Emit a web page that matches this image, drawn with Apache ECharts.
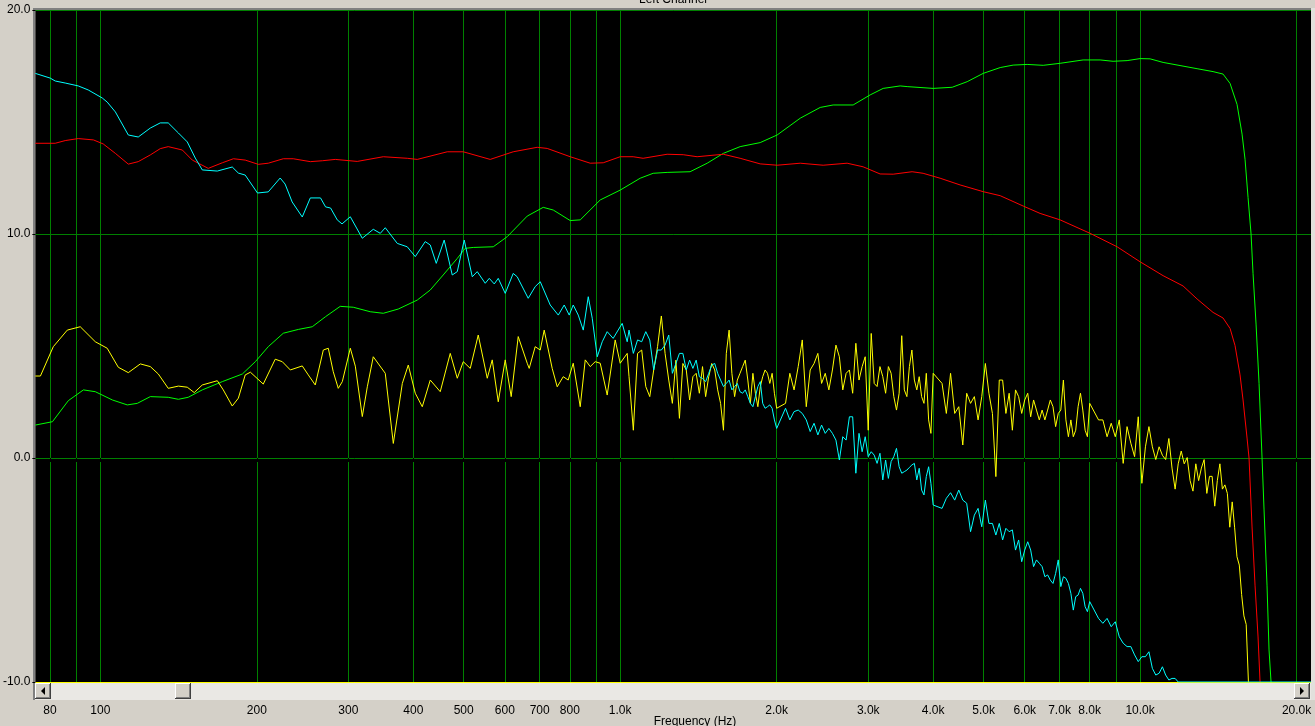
<!DOCTYPE html>
<html><head><meta charset="utf-8">
<script src="https://cdn.jsdelivr.net/npm/echarts@6/dist/echarts.min.js"></script>
<style>html,body{margin:0;padding:0;background:#d4d0c8;overflow:hidden}#c{width:1315px;height:726px}</style>
</head><body><div id="c"></div><script>
// ---------- axis ticks (Hz) ----------
const xMinHz = 75, xMaxHz = 21320;
const tickHz = [80,90,100,200,300,400,500,600,700,800,900,1000,2000,3000,4000,5000,6000,7000,8000,9000,10000,20000];
const labelHz = [80,100,200,300,400,500,600,700,800,1000,2000,3000,4000,5000,6000,7000,8000,10000,20000];
const yTicks = [-10,0,10,20];

// ---------- smooth curves [Hz, dB] ----------
const red = [[75,14.05],[81.9,14.05],[85.6,14.17],[90.7,14.26],[97,14.2],[101.3,14.02],[106.9,13.6],[113.2,13.12],[118.3,13.23],[124.8,13.53],[130.4,13.81],[135.1,13.9],[143.8,13.75],[150.3,13.3],[161.3,12.93],[171.7,13.18],[180.3,13.36],[190,13.3],[201.3,13.11],[210.4,13.16],[224.9,13.36],[235,13.36],[253.5,13.23],[267.3,13.27],[283.1,13.33],[312,13.24],[350.2,13.45],[389.4,13.38],[407,13.33],[464.9,13.67],[499.1,13.67],[562.3,13.33],[622.6,13.67],[692.4,13.87],[723.8,13.82],[801.4,13.45],[875.8,13.16],[927.7,13.18],[1000,13.45],[1059,13.45],[1107,13.38],[1231,13.56],[1322,13.54],[1406,13.45],[1579,13.56],[1701,13.38],[1859,13.13],[2004,13.07],[2220,13.16],[2457,13.07],[2732,13.16],[2933,13.0],[3162,12.68],[3350,12.67],[3643,12.78],[3825,12.71],[4125,12.49],[4507,12.19],[4991,11.89],[5382,11.71],[5957,11.25],[6422,10.92],[7018,10.63],[8013,10.03],[9033,9.43],[10000,8.76],[11073,8.14],[12097,7.68],[12872,7.1],[13815,6.5],[14441,6.25],[14899,5.78],[15229,5.02],[15570,3.71],[15779,2.59],[16062,0.89],[16203,0],[16421,-3.08],[16642,-5.71],[16864,-7.99],[17013,-10]];

const green = [[75,1.47],[80.9,1.62],[86.8,2.56],[92.8,3.04],[97.8,2.96],[105.5,2.59],[112.7,2.37],[117.8,2.44],[124.8,2.74],[135.1,2.71],[141.3,2.62],[147.6,2.71],[157.1,3.04],[171.7,3.41],[187.6,3.75],[198.7,4.3],[210.4,4.97],[224.9,5.57],[240.4,5.74],[255.7,5.86],[271.2,6.31],[289.4,6.77],[306.6,6.73],[330.5,6.53],[350.2,6.46],[374.2,6.65],[407,7.05],[431.2,7.5],[456.6,8.17],[486,8.91],[503.4,9.36],[521.6,9.4],[570,9.43],[606.3,9.88],[662.5,10.8],[711.1,11.19],[743.5,11.07],[801.4,10.6],[837.8,10.63],[915.4,11.52],[1000,11.96],[1092.6,12.49],[1157.3,12.71],[1231,12.75],[1363,12.78],[1470,13.16],[1579,13.6],[1701,13.9],[1859,14.08],[2004,14.42],[2220,15.17],[2425,15.65],[2568,15.76],[2806,15.76],[3026,16.21],[3205,16.5],[3456,16.61],[3564,16.58],[4000,16.5],[4351,16.55],[4650,16.8],[4991,17.17],[5382,17.43],[5700,17.54],[6064,17.57],[6511,17.53],[7018,17.62],[7771,17.77],[8378,17.77],[8873,17.71],[9441,17.74],[10000,17.83],[10453,17.82],[11073,17.66],[12872,17.38],[13815,17.25],[14441,17.14],[14899,16.72],[15367,15.78],[15710,14.46],[15920,13.33],[16133,11.63],[16349,10.0],[16494,8.23],[16715,5.98],[16938,3.33],[17165,0],[17318,-2.32],[17548,-5.71],[17704,-8.57],[17862,-10]];

// ---------- low-frequency part of the noisy curves [Hz, dB] ----------
const yellowLow = [[75,3.66],[76.7,3.66],[81.2,4.97],[86.4,5.71],[91.5,5.86],[97.8,5.19],[103.1,4.9],[108.3,4.05],[113.2,3.81],[119.4,4.2],[124.8,4.08],[129.3,3.75],[135.1,3.11],[141.3,3.21],[147,3.16],[151.6,2.92],[157.1,3.26],[167.9,3.45],[172.4,3.04],[179.4,2.32],[184.3,2.67],[190,3.71],[194.4,3.83],[205.8,3.3],[217,4.41],[223.9,4.3],[232,3.93],[244.6,4.11],[251.2,3.71],[259.1,3.26],[268.5,4.82],[274.5,4.9],[280.6,3.85],[286.9,3.11],[292.1,3.41],[302.6,4.9],[309.4,4.1],[319.1,1.85],[326.3,3.18],[335,4.52],[353.3,3.78],[366.1,0.65],[381,3.33],[391.2,4.15],[403.5,2.89],[416.2,2.29],[431.2,3.48],[450.7,2.96],[471.1,4.67],[486,3.56],[499.1,4.3],[514.8,4.0],[533.3,5.49],[555,3.56],[567.4,4.38],[582.7,2.51],[601,4.38],[617.1,2.74],[636.6,5.42],[662.5,4.23],[668.3,4.0],[686.3,4.97],[701.8,4.82],[714.2,5.71],[740,4.0],[756.6,3.18],[777,3.63],[794.3,3.48],[812.2,4.23],[837.8,2.29],[856.6,4.38],[875.8,4.08],[895.3,4.3],[915.4,4.23],[944.1,2.81],[978.1,5.27],[1000,4.23],[1031.5,4.67]];

const cyanLow = [[75,17.17],[80.1,16.96],[81.9,16.83],[85.6,16.74],[90.7,16.61],[94.8,16.43],[100.9,16.07],[103.1,15.89],[106.9,15.45],[113.2,14.42],[118.3,14.33],[124.8,14.73],[130.4,14.96],[135.1,14.96],[141.3,14.51],[147,14.11],[152.3,13.39],[157.1,12.86],[167.9,12.81],[179.4,12.99],[184.3,12.72],[190,12.63],[200.6,11.83],[210.4,11.88],[221.8,12.5],[226.7,12.23],[233.9,11.43],[244.6,10.76],[253.5,11.61],[265.2,11.61],[271.2,11.21],[277.3,11.16],[285.6,10.63],[291.7,10.45],[302.6,10.77],[319.1,9.81],[335,10.21],[345.6,10.03],[353.3,10.28],[372.6,9.58],[389.4,9.43],[403.5,8.99],[421.7,9.66],[431.2,9.51],[442.8,8.69],[458.6,9.73],[475.3,8.17],[486,8.32],[501.2,9.73],[519.4,8.09],[530.9,8.32],[550.1,7.8],[560,8.02],[572.5,7.77],[582.7,8.02],[601,7.35],[622.6,8.24],[633.8,8.09],[665.4,7.13],[686.3,7.65],[701.8,7.87],[733.5,6.83],[760.2,6.38],[780.4,6.83],[797.9,6.38],[812.2,6.83],[830.5,6.38],[849.1,5.71],[868.1,7.2],[883.6,6.24],[903.4,4.52],[923.6,5.19],[944.1,5.64],[969.4,5.34],[1008.9,6.01],[1031.5,5.19]];

// ---------- high-frequency noisy part: frequency grid (Hz) in four octaves ----------
const hzA = [1040,1060,1080,1100,1120,1140,1160,1180,1200,1220,1240,1260,1280,1300,1320,1340,1360,1380,1400,1420,1440,1460,1480,1500,1520,1540,1560,1580,1600,1620,1640,1660,1680,1700,1720,1740,1760,1780,1800,1820,1840,1860,1880,1900,1920,1940,1960,1980,2000];
const hzB = [2080,2120,2160,2200,2240,2280,2320,2360,2400,2440,2480,2520,2560,2600,2640,2680,2720,2760,2800,2840,2880,2920,2960,3000,3040,3080,3120,3160,3200,3240,3280,3320,3360,3400,3440,3480,3520,3560,3600,3640,3680,3720,3760,3800,3840,3880,3920,3960,4000];
const hzC = [4160,4240,4320,4400,4480,4560,4640,4720,4800,4880,4960,5040,5120,5200,5280,5360,5440,5520,5600,5680,5760,5840,5920,6000,6080,6160,6240,6320,6400,6480,6560,6640,6720,6800,6880,6960,7040,7120,7200,7280,7360,7440,7520,7600,7680,7760,7840,7920,8000];
const hzD = [8320,8480,8640,8800,8960,9120,9280,9440,9600,9760,9920,10080,10240,10400,10560,10720,10880,11040,11200,11360,11520,11680,11840,12000,12160,12320,12480,12640,12800,12960,13120,13280,13440,13600,13760,13920,14080,14240,14400,14560,14720,14880,15040,15200,15360,15520,15680,15840,16000];

// yellow values (dB) on that grid
const yellowA = [3.63,1.24,4.67,4.82,3.19,2.74,3.93,4.97,6.34,4.67,3.48,2.44,4.37,1.77,4.22,3.93,2.59,3.63,3.78,2.89,4.08,2.74,3.63,4.22,3.93,3.04,2.44,1.24,4.67,5.71,3.78,2.74,3.48,3.78,4.08,4.37,3.48,2.44,3.78,2.89,2.29,3.19,3.63,3.93,3.78,3.33,3.78,2.89,2.22];
const yellowB = [2.44,3.78,3.04,4.08,5.27,2.29,3.93,4.22,4.67,3.33,3.78,3.04,3.93,5.04,4.52,3.04,3.78,3.93,2.89,5.12,3.48,4.08,4.52,1.24,5.56,3.33,3.19,4.08,3.63,2.89,4.08,3.78,2.74,2.14,2.89,5.46,3.04,2.74,4.08,4.82,3.48,3.04,3.63,2.74,2.44,3.78,1.7,1.1,3.78];
const yellowC = [3.33,1.99,3.78,1.99,2.29,0.58,2.89,2.44,2.74,1.7,2.74,4.22,2.89,1.99,-0.83,3.48,3.48,1.99,2.89,1.24,3.04,2.74,1.99,2.59,2.89,1.84,2.59,2.14,1.7,2.14,1.7,2.14,2.59,2.29,1.4,1.99,2.14,3.48,1.7,0.95,1.7,0.95,1.24,2.29,2.89,2.14,1.24,0.95,2.44];
const yellowD = [1.7,1.7,0.95,1.55,0.95,1.7,-0.24,1.4,0.66,0.06,1.84,-1.13,0.5,1.4,0.5,-0.07,0.5,0.12,-0.07,0.87,-0.45,-1.39,-0.26,0.31,-0.26,0.02,-1.01,-1.48,-0.26,-1.01,-0.45,-0.07,-1.58,-0.82,-0.82,-2.15,-1.01,-0.26,-1.39,-1.2,-1.58,-3.09,-1.96,-3.09,-4.41,-4.78,-6.1,-7.05,-7.43];
const yellowTail = [[16160,-10]];

// cyan values (dB) on that grid
const cyanA = [5.71,4.67,5.27,5.19,5.64,5.27,3.93,4.82,4.82,5.04,5.49,3.78,4.22,4.67,4.67,3.93,4.37,4.0,4.37,3.63,3.55,3.41,3.78,4.15,4.22,3.78,3.48,3.19,3.33,3.48,3.04,3.19,3.33,2.96,2.89,3.04,2.74,2.44,2.29,2.74,3.19,3.41,2.44,2.22,2.29,2.37,2.22,1.7,1.32];
const cyanB = [2.22,1.7,2.07,2.14,1.99,1.7,1.18,1.55,1.03,1.47,1.1,1.32,1.1,0.8,-0.09,0.95,0.8,1.84,1.84,-0.68,1.1,0.28,0.95,0.06,0.28,0.13,-0.24,0.21,-0.98,-0.09,-0.91,-0.16,0.06,0.43,-0.39,-0.68,-0.61,-0.54,-0.42,-0.31,-0.24,-0.98,-0.46,-1.43,-1.65,-0.83,-0.39,-1.13,-2.1];
const cyanC = [-2.25,-1.8,-1.55,-1.88,-1.43,-1.88,-2.02,-3.29,-2.55,-2.25,-3.07,-1.88,-2.92,-2.92,-3.44,-2.92,-3.66,-3.14,-3.29,-3.21,-4.11,-3.66,-4.63,-4.11,-3.74,-4.11,-4.85,-4.55,-4.7,-4.85,-5.3,-5.22,-5.45,-5.6,-5.15,-4.55,-5.74,-5.3,-5.37,-5.6,-6.04,-6.79,-6.19,-6.12,-5.82,-6.04,-6.64,-6.86,-6.41];
const cyanD = [-7.16,-7.38,-7.16,-7.53,-7.31,-7.98,-8.27,-8.42,-8.42,-8.79,-9.09,-8.87,-8.87,-8.65,-9.39,-9.69,-9.61,-9.32,-9.69,-9.91,-9.84,-9.84,-10];
const cyanTail = [[21320,-10]];

// ---------- build ----------
const L = v => Math.log10(v);
const pts = arr => arr.map(p => [L(p[0]), p[1]]);
const pairs = (hz, db) => db.map((v, i) => [L(hz[i]), v]);

const yellowData = pts(yellowLow).concat(pairs(hzA, yellowA), pairs(hzB, yellowB), pairs(hzC, yellowC), pairs(hzD, yellowD), pts(yellowTail));
const cyanData = pts(cyanLow).concat(pairs(hzA, cyanA), pairs(hzB, cyanB), pairs(hzC, cyanC), pairs(hzD, cyanD), pts(cyanTail));

const FONT = '"Liberation Sans", Arial, sans-serif';
const GRID_GREEN = '#008000';

function fmtHz(v) {
  const hz = Math.round(Math.pow(10, v));
  return hz >= 1000 ? (hz / 1000).toFixed(1) + 'k' : String(hz);
}
function line(name, data, color) {
  return { name, type: 'line', data, showSymbol: false, symbol: 'none', silent: true,
    animation: false, clip: true, lineStyle: { width: 1, color }, itemStyle: { color } };
}
function button(x, y) {
  return [
    { type: 'rect', shape: { x, y, width: 16, height: 16 }, style: { fill: '#404040' } },
    { type: 'rect', shape: { x, y, width: 15, height: 15 }, style: { fill: '#ffffff' } },
    { type: 'rect', shape: { x: x + 1, y: y + 1, width: 14, height: 14 }, style: { fill: '#808080' } },
    { type: 'rect', shape: { x: x + 1, y: y + 1, width: 13, height: 13 }, style: { fill: '#d4d0c8' } }
  ];
}

const chart = echarts.init(document.getElementById('c'), null, { renderer: 'canvas', width: 1315, height: 726 });
chart.setOption({
  backgroundColor: '#d4d0c8',
  animation: false,
  grid: { left: 35, top: 10, width: 1276, height: 672, show: true, backgroundColor: '#000000', borderWidth: 0, containLabel: false },
  xAxis: {
    type: 'value', min: L(xMinHz), max: L(xMaxHz), offset: 18,
    axisLine: { show: false },
    axisTick: { show: true, customValues: tickHz.map(L), length: 4, inside: false, lineStyle: { color: '#000', width: 1 } },
    axisLabel: { show: true, customValues: labelHz.map(L), formatter: fmtHz, margin: 5, color: '#000', fontSize: 12, fontFamily: FONT },
    splitLine: { show: true, lineStyle: { color: GRID_GREEN, width: 1 } }
  },
  yAxis: {
    type: 'value', min: yTicks[0], max: yTicks[yTicks.length - 1], interval: 10,
    axisLine: { show: false },
    axisTick: { show: true, length: 3, lineStyle: { color: '#000' } },
    axisLabel: { formatter: v => v.toFixed(1), margin: 5, color: '#000', fontSize: 12, fontFamily: FONT },
    splitLine: { show: true, lineStyle: { color: ['#ffff00', GRID_GREEN, GRID_GREEN, GRID_GREEN], width: 1 } }
  },
  series: [
    line('Green', pts(green), '#00ff00'),
    line('Red', pts(red), '#ff0000'),
    line('Yellow', yellowData, '#ffff00'),
    line('Cyan', cyanData, '#00ffff')
  ],
  graphic: [
    // frame
    { type: 'rect', shape: { x: 33, y: 8, width: 1279, height: 2 }, style: { fill: '#808080' } },
    { type: 'rect', shape: { x: 33, y: 8, width: 2, height: 692 }, style: { fill: '#808080' } },
    { type: 'rect', shape: { x: 1311, y: 8, width: 4, height: 692 }, style: { fill: '#e2e0dc' } },
    // scrollbar track
    { type: 'rect', shape: { x: 35, y: 683, width: 1276, height: 17 }, style: { fill: '#eae8e4' } },
    ...button(35, 683),
    ...button(175, 683),
    ...button(1294, 683),
    { type: 'polygon', shape: { points: [[41, 691], [45, 687], [45, 695]] }, style: { fill: '#000' } },
    { type: 'polygon', shape: { points: [[1304, 691], [1300, 687], [1300, 695]] }, style: { fill: '#000' } },
    // texts
    { type: 'text', x: 673, y: 6, style: { text: 'Left Channel', fill: '#000', font: '12px ' + FONT, align: 'center', verticalAlign: 'bottom' } },
    { type: 'text', x: 695, y: 716, style: { text: 'Frequency (Hz)', fill: '#000', font: '12px ' + FONT, align: 'center', verticalAlign: 'top' } }
  ]
});
</script></body></html>
